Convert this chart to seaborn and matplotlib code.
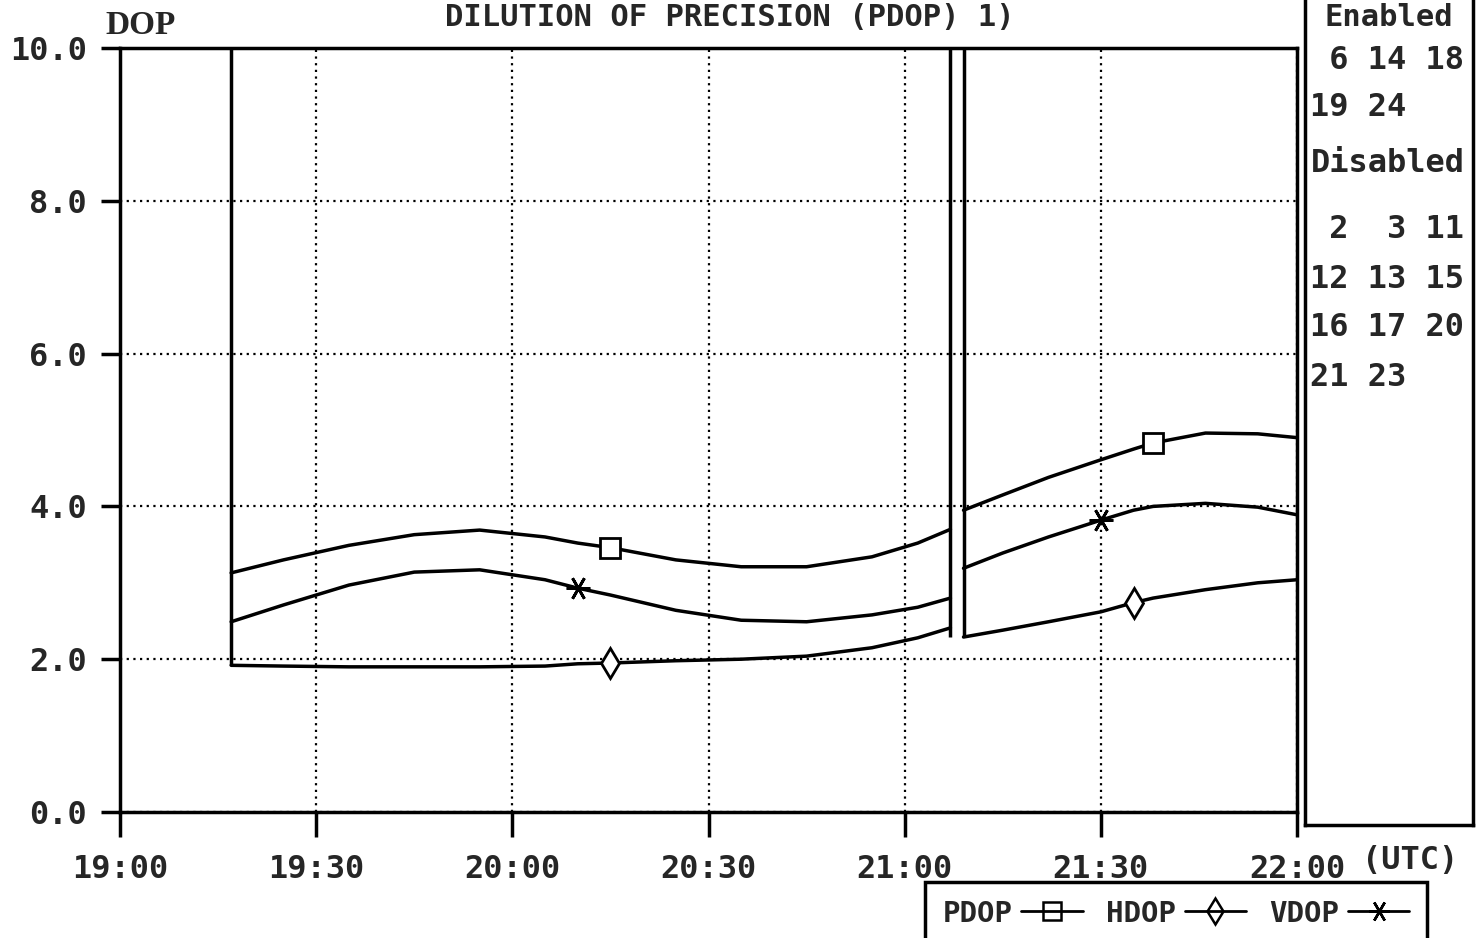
import numpy as np
import pandas as pd
import matplotlib
matplotlib.use("Agg")
import matplotlib.pyplot as plt
from matplotlib.lines import Line2D
import seaborn as sns

# time in minutes after 19:00 UTC, two tracked segments with a break at ~21:08
t_seg1 = [17, 25, 35, 45, 55, 65, 70, 75, 85, 95, 105, 115, 122, 127]
t_seg2 = [129, 135, 142, 150, 155, 158, 166, 174, 180]

pdop_seg1 = [3.13, 3.30, 3.49, 3.63, 3.69, 3.60, 3.52, 3.46, 3.30, 3.21, 3.21, 3.34, 3.52, 3.70]
pdop_seg2 = [3.95, 4.15, 4.38, 4.61, 4.75, 4.83, 4.96, 4.95, 4.90]
vdop_seg1 = [2.49, 2.71, 2.97, 3.14, 3.17, 3.04, 2.93, 2.84, 2.64, 2.51, 2.49, 2.58, 2.68, 2.80]
vdop_seg2 = [3.19, 3.39, 3.60, 3.82, 3.95, 4.00, 4.04, 3.99, 3.89]
hdop_seg1 = [1.92, 1.91, 1.90, 1.90, 1.90, 1.91, 1.94, 1.95, 1.98, 2.00, 2.04, 2.15, 2.28, 2.41]
hdop_seg2 = [2.29, 2.38, 2.49, 2.62, 2.74, 2.80, 2.91, 3.00, 3.04]

# times where the curve symbol is printed
pdop_marks = [75, 158]
hdop_marks = [75, 155]
vdop_marks = [70, 150]

x_ticks = [0, 30, 60, 90, 120, 150, 180]
x_labels = ["19:00", "19:30", "20:00", "20:30", "21:00", "21:30", "22:00"]
y_ticks = [0, 2, 4, 6, 8, 10]

enabled = [6, 14, 18, 19, 24]
disabled = [2, 3, 11, 12, 13, 15, 16, 17, 20, 21, 23]

rows = []
for name, s1, s2 in [("PDOP", pdop_seg1, pdop_seg2),
                     ("HDOP", hdop_seg1, hdop_seg2),
                     ("VDOP", vdop_seg1, vdop_seg2)]:
    for t, v in zip(t_seg1, s1):
        rows.append((name, 1, t, v))
    for t, v in zip(t_seg2, s2):
        rows.append((name, 2, t, v))
df = pd.DataFrame(rows, columns=["series", "seg", "time", "dop"])

sns.set_style("white")
plt.rcParams["font.family"] = ["DejaVu Sans Mono"]
plt.rcParams["font.weight"] = "bold"

fig = plt.figure(figsize=(14.8, 9.38), dpi=100)
ax = fig.add_axes([120 / 1480, 126 / 938, 1177 / 1480, 764 / 938])

for name in ["PDOP", "HDOP", "VDOP"]:
    sns.lineplot(data=df[df.series == name], x="time", y="dop", units="seg",
                 estimator=None, color="black", linewidth=2.5, ax=ax)

star = (6, 2, 90)
markers = {"PDOP": ("s", 15), "HDOP": ("d", 15), "VDOP": (star, 17)}
marks = {"PDOP": pdop_marks, "HDOP": hdop_marks, "VDOP": vdop_marks}
for name, (m, ms) in markers.items():
    sub = df[(df.series == name) & (df.time.isin(marks[name]))]
    ax.plot(sub.time, sub.dop, linestyle="none", marker=m, markersize=ms,
            markerfacecolor="white" if m != star else "black",
            markeredgecolor="black", markeredgewidth=2)

# start line and double break line at the data gap
ax.vlines(t_seg1[0], hdop_seg1[0], 10, color="black", linewidth=2.5)
ax.vlines([t_seg1[-1], t_seg2[0]], hdop_seg2[0], 10, color="black", linewidth=2.5)

ax.set_xlim(0, 180)
ax.set_ylim(0, 10)
ax.set_xticks(x_ticks)
ax.set_xticklabels(x_labels)
ax.set_yticks(y_ticks)
ax.set_yticklabels([f"{v:.1f}" for v in y_ticks])
ax.set_xlabel("")
ax.set_ylabel("")
ax.grid(True, color="black", linestyle=(0, (1, 2)), linewidth=1.6)
for sp in ax.spines.values():
    sp.set_visible(True)
    sp.set_color("black")
    sp.set_linewidth(2.5)
ax.tick_params(axis="both", which="both", direction="out", color="black",
               width=2.5, labelsize=23, bottom=True, left=True)
ax.tick_params(axis="y", length=14, pad=10)
ax.tick_params(axis="x", length=18, pad=12)

fig.text(105 / 1480, 1 - 25 / 938, "DOP", family="Liberation Serif",
         fontsize=24, fontweight="bold", ha="left", va="center")
fig.text(1362 / 1480, 1 - 860 / 938, "(UTC)", fontsize=23, fontweight="bold",
         ha="left", va="center")
fig.text(730 / 1480, 1 - 26 / 938, "DILUTION OF PRECISION (PDOP) 1)",
         fontsize=22, fontweight="bold", ha="center", va="baseline")

# satellite panel on the right
side = fig.add_axes([1305 / 1480, 113 / 938, 168 / 1480, 0.95])
side.set_xticks([])
side.set_yticks([])
for sp in side.spines.values():
    sp.set_color("black")
    sp.set_linewidth(2.5)

def rows_of(nums):
    return [" ".join(f"{n:>2d}" for n in nums[i:i + 3]) for i in range(0, len(nums), 3)]

fig.text(1389 / 1480, 1 - 26 / 938, "Enabled", fontsize=22, fontweight="bold",
         ha="center", va="baseline")
y_px = 60
for line in rows_of(enabled):
    fig.text(1310 / 1480, 1 - y_px / 938, line, fontsize=23, fontweight="bold",
             ha="left", va="center")
    y_px += 48
fig.text(1388 / 1480, 1 - 163 / 938, "Disabled", fontsize=23, fontweight="bold",
         ha="center", va="center")
y_px = 230
for line in rows_of(disabled):
    fig.text(1310 / 1480, 1 - y_px / 938, line, fontsize=23, fontweight="bold",
             ha="left", va="center")
    y_px += 49

# legend box at the bottom
handles = []
for name, (m, ms) in markers.items():
    handles.append(Line2D([], [], color="black", linewidth=2, marker=m,
                          markersize=ms - 2, markeredgewidth=1.8, markeredgecolor="black",
                          markerfacecolor="none" if m != star else "black"))
leg = fig.legend(handles, list(markers.keys()), loc="upper left",
                 bbox_to_anchor=(925 / 1480, 1 - 882 / 938), ncol=3,
                 markerfirst=False, frameon=True, fancybox=False,
                 edgecolor="black", framealpha=1, fontsize=21,
                 handlelength=2.1, columnspacing=0.8, handletextpad=0.3,
                 borderpad=0.6, borderaxespad=0)
leg.get_frame().set_linewidth(2.5)
for txt in leg.get_texts():
    txt.set_fontweight("bold")

fig.savefig("out.png", dpi=100, facecolor="white")
